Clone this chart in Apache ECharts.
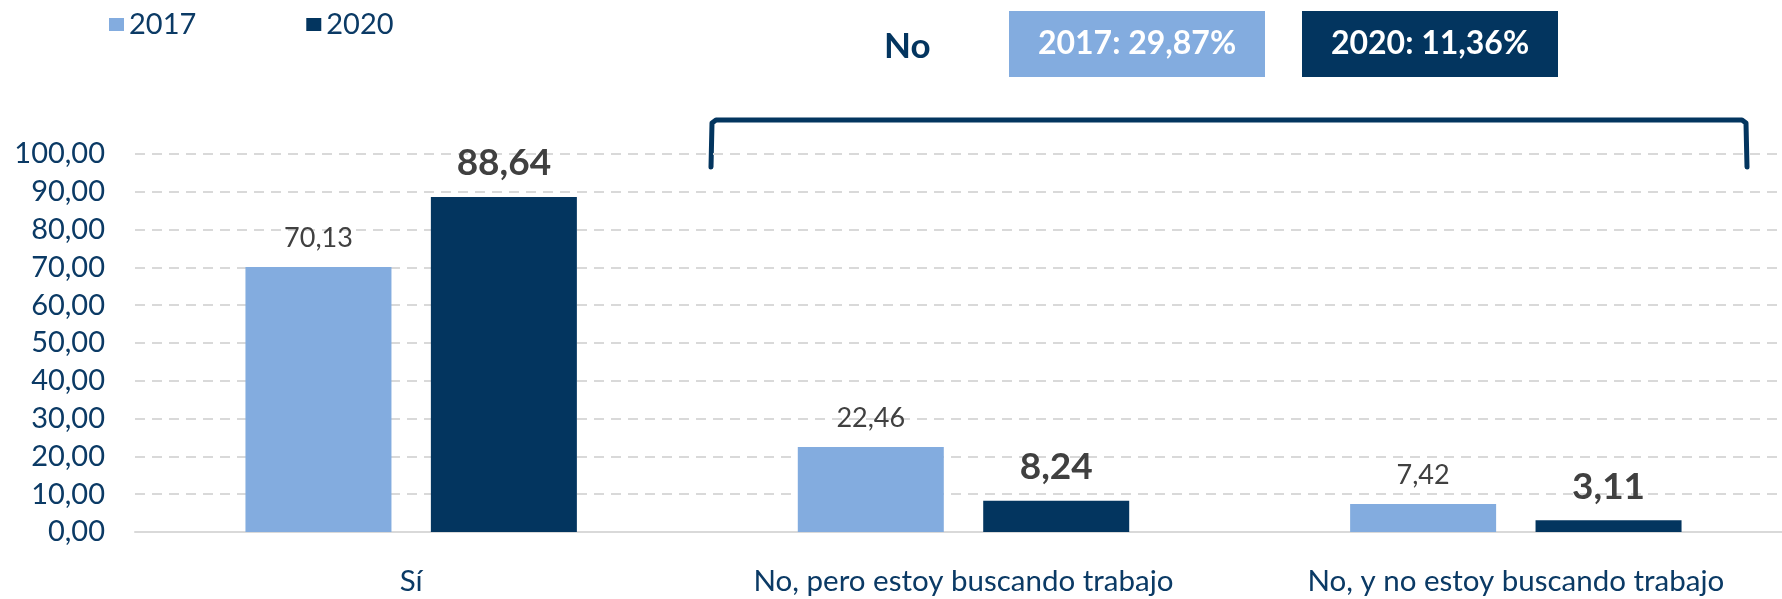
<!DOCTYPE html>
<html>
<head>
<meta charset="utf-8">
<script src="https://cdn.jsdelivr.net/npm/echarts@6/dist/echarts.min.js"></script>
<style>
  html, body { margin: 0; padding: 0; background: #fff; }
  #chart { width: 1782px; height: 599px; }
</style>
</head>
<body>
<div id="chart"></div>
<script>
// datos
var categories = ['Sí', 'No, pero estoy buscando trabajo', 'No, y no estoy buscando trabajo'];
var seriesNames = ['2017', '2020'];
var values2017 = [70.13, 22.46, 7.42];
var values2020 = [88.64, 8.24, 3.11];
var noTotals = ['2017: 29,87%', '2020: 11,36%'];

var light = '#83ACDF';
var dark = '#03355F';
var navyText = '#0B3A65';
var font = 'Lato';

// 70.13 -> "70,13"
function fmt(v) {
    return v.toFixed(2).replace('.', ',');
}

var chart = echarts.init(document.getElementById('chart'));
var option = {
    backgroundColor: '#fff',
    animation: false,
    textStyle: { fontFamily: font },
    legend: {
        left: 104,
        top: 5,
        itemWidth: 15,
        itemHeight: 13,
        itemGap: 110,
        icon: 'rect',
        textStyle: { fontSize: 29, color: navyText, fontFamily: font },
        data: seriesNames
    },
    grid: {
        left: 135,
        top: 154,
        width: 1657,
        height: 378,
        outerBoundsMode: 'none'
    },
    xAxis: {
        type: 'category',
        data: categories,
        axisTick: { show: false },
        axisLine: { lineStyle: { color: '#D9D9D9', width: 2 } },
        axisLabel: { fontSize: 29.5, color: navyText, margin: 34, fontFamily: font }
    },
    yAxis: {
        type: 'value',
        min: 0,
        max: 100,
        interval: 10,
        axisLine: { show: false },
        axisTick: { show: false },
        splitLine: { lineStyle: { color: '#D9D9D9', type: [10, 7], width: 2 } },
        axisLabel: { fontSize: 29, color: navyText, margin: 30, formatter: fmt, fontFamily: font }
    },
    series: [
        {
            name: seriesNames[0],
            type: 'bar',
            data: values2017,
            barWidth: 146,
            barGap: '27%',
            itemStyle: { color: light },
            label: {
                show: true,
                position: 'top',
                distance: 15,
                fontSize: 27,
                color: '#404040',
                fontFamily: font,
                formatter: function (p) { return fmt(p.value); }
            }
        },
        {
            name: seriesNames[1],
            type: 'bar',
            data: values2020,
            barWidth: 146,
            itemStyle: { color: dark },
            label: {
                show: true,
                position: 'top',
                distance: 15,
                fontSize: 37,
                fontWeight: 'bold',
                color: '#404040',
                fontFamily: font,
                formatter: function (p) { return fmt(p.value); }
            }
        }
    ],
    graphic: [
        // encabezado "No"
        {
            type: 'text',
            left: 884,
            top: 29,
            style: { text: 'No', fontSize: 35, fontWeight: 'bold', fill: dark, fontFamily: font }
        },
        {
            type: 'group',
            left: 1009,
            top: 11,
            children: [
                { type: 'rect', shape: { x: 0, y: 0, width: 256, height: 66 }, style: { fill: light } },
                { type: 'text', x: 128, y: 33, style: { text: noTotals[0], fontSize: 32, fontWeight: 'bold', fill: '#fff', align: 'center', verticalAlign: 'middle', fontFamily: font } }
            ]
        },
        {
            type: 'group',
            left: 1302,
            top: 11,
            children: [
                { type: 'rect', shape: { x: 0, y: 0, width: 256, height: 66 }, style: { fill: dark } },
                { type: 'text', x: 128, y: 33, style: { text: noTotals[1], fontSize: 32, fontWeight: 'bold', fill: '#fff', align: 'center', verticalAlign: 'middle', fontFamily: font } }
            ]
        },
        // llave
        {
            type: 'polyline',
            shape: { points: [[711, 167], [712, 123], [716, 120], [1742, 120], [1746, 123], [1747, 167]] },
            style: { stroke: dark, lineWidth: 5, fill: null, lineJoin: 'round', lineCap: 'round' }
        }
    ]
};
chart.setOption(option);
</script>
</body>
</html>
